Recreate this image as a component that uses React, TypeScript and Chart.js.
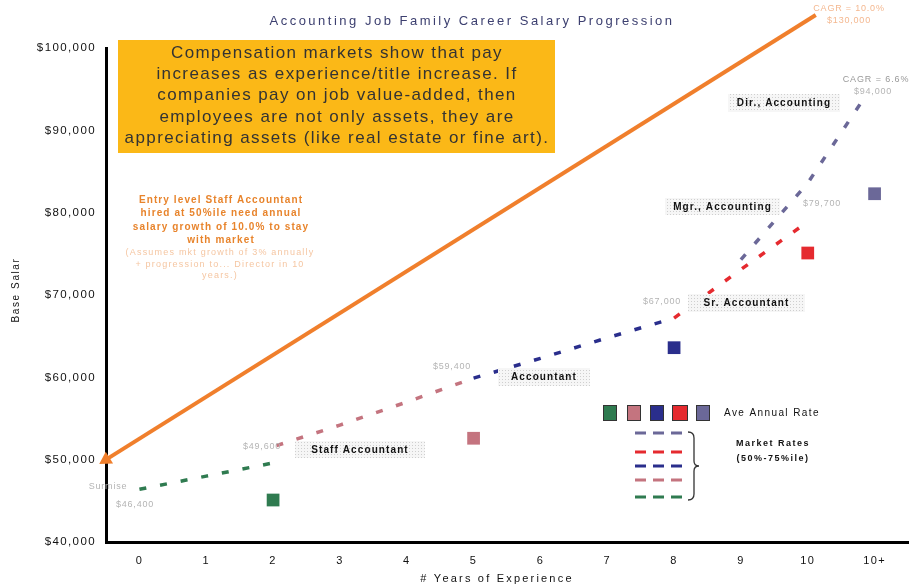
import React, { useEffect, useRef } from 'react';
import { Chart, registerables } from 'chart.js';

Chart.register(...registerables);

// ---- data ----
const yearLabels = ['0', '1', '2', '3', '4', '5', '6', '7', '8', '9', '10', '10+'];
const salaryTicks = [40000, 50000, 60000, 70000, 80000, 90000, 100000];

const cagrLineX = [-0.5, 10.12];
const cagrLineY = [50000, 104000];

const staffX = [0, 1, 2];
const staffY = [46400, 48000, 49600];
const accountantX = [2.05, 3, 4, 5];
const accountantY = [51700, 54200, 57000, 59900];
const seniorX = [5, 6, 7, 8];
const seniorY = [59900, 62300, 64800, 67200];
const managerX = [8, 9, 10];
const managerY = [67200, 73100, 78900];
const directorX = [9, 10, 10.85];
const directorY = [74300, 83600, 94000];

const aveRateX = [2, 5, 8, 10, 11];
const aveRateY = [45100, 52600, 63600, 75100, 82300];

const GREEN = '#2F7B50';
const PINK = '#C4747F';
const BLUE = '#2A2E8C';
const RED = '#E52A2F';
const PURPLE = '#6B6898';
const ORANGE = '#F07F2C';
const aveRateColors = [GREEN, PINK, BLUE, RED, PURPLE];

const FONT = '"Liberation Sans", Arial, sans-serif';

const pts = (xs: number[], ys: number[]) => xs.map((x, i) => ({ x, y: ys[i] }));

function dashed(data: { x: number; y: number }[], color: string) {
  return {
    type: 'scatter' as const,
    data,
    showLine: true,
    borderColor: color,
    backgroundColor: color,
    borderWidth: 3.5,
    borderDash: [7, 14],
    pointRadius: 0,
    borderCapStyle: 'butt' as const,
  };
}

function txt(
  ctx: CanvasRenderingContext2D,
  s: string,
  x: number,
  y: number,
  font: string,
  color: string,
  align: CanvasTextAlign = 'center',
  spacing = 0
) {
  ctx.save();
  ctx.font = font;
  ctx.fillStyle = color;
  ctx.textAlign = align;
  ctx.textBaseline = 'middle';
  (ctx as any).letterSpacing = spacing + 'px';
  ctx.fillText(s, x, y);
  ctx.restore();
}

let dotPattern: CanvasPattern | null = null;
function getPattern(ctx: CanvasRenderingContext2D) {
  if (dotPattern) return dotPattern;
  const c = document.createElement('canvas');
  c.width = 3;
  c.height = 3;
  const g = c.getContext('2d')!;
  g.fillStyle = '#f6f6f6';
  g.fillRect(0, 0, 3, 3);
  g.fillStyle = '#cfcfcf';
  g.fillRect(1, 1, 1, 1);
  dotPattern = ctx.createPattern(c, 'repeat');
  return dotPattern;
}

const spacingPlugin = {
  id: 'tickSpacing',
  beforeDraw(chart: any) {
    (chart.ctx as any).letterSpacing = '1.4px';
  },
};

const annotationPlugin = {
  id: 'annotations',
  afterDatasetsDraw(chart: any) {
    const ctx: CanvasRenderingContext2D = chart.ctx;
    // Title
    txt(ctx, 'Accounting Job Family Career Salary Progression', 472, 21, `13px ${FONT}`, '#3d4070', 'center', 2.5);

    // Yellow callout
    ctx.save();
    ctx.fillStyle = '#FBB817';
    ctx.fillRect(118, 40, 437, 113);
    ctx.restore();
    const callout = [
      'Compensation markets show that pay',
      'increases as experience/title increase. If',
      'companies pay on job value-added, then',
      'employees are not only assets, they are',
      'appreciating assets (like real estate or fine art).',
    ];
    callout.forEach((s, i) => txt(ctx, s, 337, 53 + i * 21.3, `17px ${FONT}`, '#333333', 'center', 1.4));

    // Orange explanatory text
    const orangeLines = [
      'Entry level Staff Accountant',
      'hired at 50%ile need annual',
      'salary growth of 10.0% to stay',
      'with market',
    ];
    orangeLines.forEach((s, i) => txt(ctx, s, 221, 200 + i * 13.5, `bold 10px ${FONT}`, '#E8842C', 'center', 1.1));
    const lightLines = ['(Assumes mkt growth of 3% annually', '+ progression to... Director in 10', 'years.)'];
    lightLines.forEach((s, i) => txt(ctx, s, 220, 253 + i * 11.3, `9px ${FONT}`, '#F5C6A2', 'center', 1.2));

    // Role label boxes
    const roles: [string, number, number, number, number][] = [
      ['Staff Accountant', 295, 441, 130, 17],
      ['Accountant', 498, 368, 92, 18],
      ['Sr. Accountant', 688, 294, 117, 18],
      ['Mgr., Accounting', 665, 198, 115, 17],
      ['Dir., Accounting', 728, 94, 112, 18],
    ];
    const pat = getPattern(ctx);
    roles.forEach(([s, x, y, w, h]) => {
      ctx.save();
      ctx.fillStyle = pat || '#f2f2f2';
      ctx.fillRect(x, y, w, h);
      ctx.restore();
      txt(ctx, s, x + w / 2, y + h / 2 + 0.5, `bold 10px ${FONT}`, '#111111', 'center', 1.1);
    });

    // Value labels
    const gray = '#b4b4b4';
    const vals: [string, number, number][] = [
      ['Surmise', 108, 487],
      ['$46,400', 135, 505],
      ['$49,600', 262, 447],
      ['$59,400', 452, 367],
      ['$67,000', 662, 302],
      ['$79,700', 822, 204],
      ['$94,000', 873, 92],
    ];
    vals.forEach(([s, x, y]) => txt(ctx, s, x, y, `9px ${FONT}`, gray, 'center', 0.8));
    txt(ctx, 'CAGR = 6.6%', 876, 80, `9px ${FONT}`, '#999999', 'center', 0.9);
    txt(ctx, 'CAGR = 10.0%', 849, 9, `9px ${FONT}`, '#F4B890', 'center', 0.8);
    txt(ctx, '$130,000', 849, 21, `9px ${FONT}`, '#F4B890', 'center', 0.8);

    // Legend squares
    const sq: [number, number][] = [
      [603, 14],
      [627, 14],
      [650, 14],
      [672, 16],
      [696, 14],
    ];
    sq.forEach(([x, w], i) => {
      ctx.save();
      ctx.fillStyle = aveRateColors[i];
      ctx.fillRect(x, 405, w, 16);
      ctx.strokeStyle = '#333';
      ctx.lineWidth = 1;
      ctx.strokeRect(x + 0.5, 405.5, w - 1, 15);
      ctx.restore();
    });
    txt(ctx, 'Ave Annual Rate', 724, 413, `10px ${FONT}`, '#111111', 'left', 1.4);

    // Legend dashed rows
    const rows: [string, number][] = [
      [PURPLE, 433],
      [RED, 452],
      [BLUE, 466],
      [PINK, 480],
      [GREEN, 497],
    ];
    rows.forEach(([c, y]) => {
      ctx.save();
      ctx.strokeStyle = c;
      ctx.lineWidth = 3;
      ctx.setLineDash([11, 7]);
      ctx.beginPath();
      ctx.moveTo(635, y);
      ctx.lineTo(683, y);
      ctx.stroke();
      ctx.restore();
    });
    // Brace
    ctx.save();
    ctx.strokeStyle = '#333';
    ctx.lineWidth = 1.3;
    ctx.beginPath();
    ctx.moveTo(688, 432);
    ctx.quadraticCurveTo(694, 432, 694, 438);
    ctx.lineTo(694, 461);
    ctx.quadraticCurveTo(694, 466, 699, 466);
    ctx.quadraticCurveTo(694, 466, 694, 471);
    ctx.lineTo(694, 494);
    ctx.quadraticCurveTo(694, 500, 688, 500);
    ctx.stroke();
    ctx.restore();
    txt(ctx, 'Market Rates', 773, 444, `bold 9px ${FONT}`, '#111111', 'center', 1.5);
    txt(ctx, '(50%-75%ile)', 773, 459, `bold 9px ${FONT}`, '#111111', 'center', 1.5);

    // Axis titles
    txt(ctx, '# Years of Experience', 497, 579, `11px ${FONT}`, '#111111', 'center', 2.2);
    ctx.save();
    ctx.translate(16, 290);
    ctx.rotate(-Math.PI / 2);
    txt(ctx, 'Base Salar', 0, 0, `10px ${FONT}`, '#111111', 'center', 1.6);
    ctx.restore();
  },
};

function arrowRotation(c: any) {
  const chart = c.chart;
  const xs = chart.scales?.x;
  const ys = chart.scales?.y;
  if (!xs || !ys) return 0;
  const dx = xs.getPixelForValue(cagrLineX[1]) - xs.getPixelForValue(cagrLineX[0]);
  const dy = ys.getPixelForValue(cagrLineY[1]) - ys.getPixelForValue(cagrLineY[0]);
  const ang = (Math.atan2(dy, dx) * 180) / Math.PI + 90;
  return c.dataIndex === 0 ? ang + 180 : ang;
}

export default function App() {
  const ref = useRef<HTMLCanvasElement>(null);
  useEffect(() => {
    if (!ref.current) return;
    const chart = new Chart(ref.current, {
      type: 'scatter',
      data: {
        datasets: [
          dashed(pts(staffX, staffY), GREEN),
          dashed(pts(accountantX, accountantY), PINK),
          dashed(pts(seniorX, seniorY), BLUE),
          dashed(pts(managerX, managerY), RED),
          dashed(pts(directorX, directorY), PURPLE),
          {
            type: 'scatter',
            data: pts(aveRateX, aveRateY),
            showLine: false,
            pointStyle: 'rect',
            pointRadius: 9,
            pointBorderWidth: 0,
            pointBackgroundColor: aveRateColors,
            backgroundColor: aveRateColors,
          } as any,
          {
            type: 'scatter',
            data: pts(cagrLineX, cagrLineY),
            showLine: true,
            borderColor: ORANGE,
            backgroundColor: ORANGE,
            borderWidth: 4,
            pointStyle: 'triangle',
            pointRadius: 8,
            pointBorderWidth: 0,
            pointBackgroundColor: ORANGE,
            pointRotation: arrowRotation,
            clip: false,
          } as any,
        ],
      },
      options: {
        animation: false,
        responsive: false,
        devicePixelRatio: 1,
        layout: { padding: { top: 48, right: 7, left: 0, bottom: 0 } },
        plugins: { legend: { display: false }, tooltip: { enabled: false }, title: { display: false } },
        scales: {
          x: {
            type: 'linear',
            min: -0.5,
            max: 11.5,
            grid: { display: false, drawTicks: false },
            border: { display: true, color: '#000', width: 3 },
            afterBuildTicks: (s: any) => {
              s.ticks = yearLabels.map((_, i) => ({ value: i }));
            },
            afterFit: (s: any) => {
              s.height = 45;
            },
            ticks: {
              padding: 12,
              maxRotation: 0,
              autoSkip: false,
              color: '#111',
              font: { family: FONT, size: 11 },
              callback: (v: any) => yearLabels[Math.round(Number(v))] ?? '',
            },
          },
          y: {
            type: 'linear',
            min: 40000,
            max: 100000,
            grid: { display: false, drawTicks: false },
            border: { display: true, color: '#000', width: 3 },
            afterBuildTicks: (s: any) => {
              s.ticks = salaryTicks.map((v) => ({ value: v }));
            },
            afterFit: (s: any) => {
              s.width = 106;
            },
            ticks: {
              padding: 10,
              color: '#111',
              font: { family: FONT, size: 11.5 },
              callback: (v: any) => '$' + Number(v).toLocaleString('en-US'),
            },
          },
        },
      },
      plugins: [spacingPlugin, annotationPlugin],
    });
    return () => chart.destroy();
  }, []);
  return (
    <div style={{ position: 'absolute', left: 0, top: 0, width: 917, height: 587, background: '#fff' }}>
      <canvas ref={ref} width={917} height={587} />
    </div>
  );
}
